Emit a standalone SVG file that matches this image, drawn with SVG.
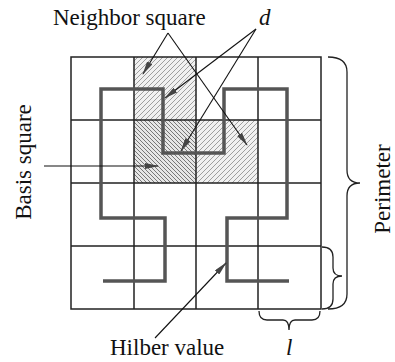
<svg xmlns="http://www.w3.org/2000/svg" width="395" height="362" viewBox="0 0 395 362">
<style>
text{font-family:'Liberation Serif','DejaVu Serif','Times New Roman',serif;font-size:23px;fill:#111}
.it{font-style:italic}
.grid{fill:none;stroke:#222;stroke-width:1.5}
.curve{fill:none;stroke:#555;stroke-width:3.5;stroke-linejoin:miter}
.arr{fill:none;stroke:#111;stroke-width:1.1;marker-end:url(#ah)}
.brace{fill:none;stroke:#222;stroke-width:1.3}
</style>
<defs>
<pattern id="hn" patternUnits="userSpaceOnUse" width="5" height="5">
<rect width="5" height="5" fill="#f1f1f1"/>
<path d="M0,5 L5,0 M-1,1 L1,-1 M4,6 L6,4" stroke="#8a8a8a" stroke-width="0.8"/>
</pattern>
<pattern id="hb" patternUnits="userSpaceOnUse" width="4" height="4">
<rect width="4" height="4" fill="#e6e6e6"/>
<path d="M0,0 L4,4 M-1,3 L1,5 M3,-1 L5,1" stroke="#5a5a5a" stroke-width="0.8"/>
</pattern>
<marker id="ah" viewBox="0 0 14 6" refX="13" refY="3" markerWidth="14" markerHeight="6" markerUnits="userSpaceOnUse" orient="auto">
<path d="M0,0 L14,3 L0,6 Z" fill="#444"/>
</marker>
</defs>
<rect width="395" height="362" fill="#fff"/>
<g id="neighbor-top"><rect x="134" y="57" width="62" height="63" fill="url(#hn)"/></g>
<g id="basis"><rect x="134" y="120" width="62" height="63" fill="url(#hb)"/></g>
<g id="neighbor-right"><rect x="196" y="120" width="62" height="63" fill="url(#hn)"/></g>
<g id="grid">
<rect class="grid" x="71" y="57" width="250" height="252"/>
<path class="grid" d="M134,57 V309 M196,57 V309 M258,57 V309 M71,120 H321 M71,183 H321 M71,246 H321"/>
</g>
<g id="hilbert">
<path class="curve" d="M103,281 H165 V218 H101 V89 H163 V153 H224 V89 H287 V218 H227 V281 H289"/>
</g>
<g id="braces">
<path class="brace" d="M328,57 Q347,57 347,72 L347,170 Q347,183 360,183 Q347,183 347,196 L347,294 Q347,309 328,309"/>
<path class="brace" d="M322,247 Q333,247 333,257 L333,268 Q333,276 342,276 Q333,276 333,284 L333,299 Q333,309 322,309"/>
<path class="brace" d="M259,311 Q259,320 267,320 L283,320 Q289,320 289,330 Q289,320 295,320 L312,320 Q320,320 320,311"/>
</g>
<g id="connectors">
<path class="arr" d="M168,33 L143,74"/>
<path class="arr" d="M168,33 L247,145"/>
<path class="arr" d="M256,29 L165,98"/>
<path class="arr" d="M256,29 L181,151"/>
<path class="arr" d="M44,166 L158,166"/>
<path class="arr" d="M155,338 L226,263"/>
</g>
<g id="labels">
<text x="53" y="25" font-family="Liberation Serif, serif">Neighbor square</text>
<text class="it" x="259" y="25" font-family="Liberation Serif, serif">d</text>
<text transform="translate(31,162) rotate(-90)" text-anchor="middle" font-family="Liberation Serif, serif">Basis square</text>
<text transform="translate(390,189) rotate(-90)" text-anchor="middle" font-family="Liberation Serif, serif">Perimeter</text>
<text x="110" y="355" font-family="Liberation Serif, serif">Hilber value</text>
<text class="it" x="286" y="355" font-family="Liberation Serif, serif">l</text>
</g>
</svg>
